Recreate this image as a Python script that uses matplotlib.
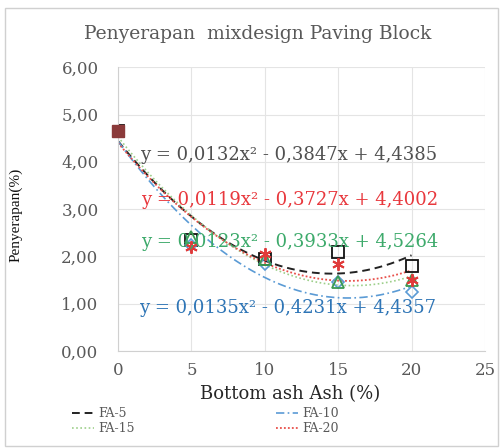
import numpy as np
import matplotlib.pyplot as plt
from matplotlib.patches import Rectangle

# data
kadar = [0, 5, 10, 15, 20]
fa5 = [4.65, 2.35, 1.95, 2.10, 1.80]
fa10 = [4.65, 2.25, 1.85, 1.45, 1.25]
fa15 = [4.65, 2.40, 1.95, 1.45, 1.50]
fa20 = [4.65, 2.20, 2.05, 1.85, 1.50]
kontrol_x = [0]
kontrol_y = [4.65]

# trendline coefficients (a, b, c) from the chart
coef5 = [0.0132, -0.3847, 4.4385]
coef10 = [0.0135, -0.4231, 4.4357]
coef15 = [0.0123, -0.3933, 4.5264]
coef20 = [0.0119, -0.3727, 4.4002]

eq5 = "y = 0,0132x² - 0,3847x + 4,4385"
eq20 = "y = 0,0119x² - 0,3727x + 4,4002"
eq15 = "y = 0,0123x² - 0,3933x + 4,5264"
eq10 = "y = 0,0135x² - 0,4231x + 4,4357"

plt.rcParams['font.family'] = ['DejaVu Serif']

fig = plt.figure(figsize=(5.03, 4.48), dpi=100)
ax = fig.add_axes([0.2346, 0.2165, 0.7294, 0.6335])

fig.patches.append(Rectangle((0.01, 0.005), 0.98, 0.978, transform=fig.transFigure,
                             fill=False, edgecolor='#d0d0d0', lw=1))

##------------------ trend lines ----------------------##
xs = np.linspace(0, 20, 200)
l5, = ax.plot(xs, np.polyval(coef5, xs), color='#222222', ls=(0, (4, 2.5)), lw=1.4, label='FA-5')
l10, = ax.plot(xs, np.polyval(coef10, xs), color='#5b9bd5', ls=(0, (5, 2, 1, 2)), lw=1.2, label='FA-10')
l15, = ax.plot(xs, np.polyval(coef15, xs), color='#9dcf8a', ls=(0, (1, 1.5)), lw=1.2, label='FA-15')
l20, = ax.plot(xs, np.polyval(coef20, xs), color='#e8504a', ls=(0, (1, 1.2)), lw=1.3, label='FA-20')

##------------------ markers ----------------------##
ax.plot(kadar, fa5, ls='none', marker='s', ms=8, mfc='none', mec='#111111', mew=1.3)
ax.plot(kadar, fa10, ls='none', marker='D', ms=6, mfc='none', mec='#5b9bd5', mew=1.2)
ax.plot(kadar, fa15, ls='none', marker='^', ms=9, mfc='none', mec='#3a9a52', mew=1.3)
ax.plot(kadar, fa20, ls='none', marker=(6, 2, 0), ms=9, mec='#e03a3a', mew=1.4)
ax.plot(kontrol_x, kontrol_y, ls='none', marker='s', ms=8, mfc='#8b3a3a', mec='#8b3a3a',
        clip_on=False, zorder=5)

##------------------ equations ----------------------##
ax.text(1.5, 4.14, eq5, color='#505050', fontsize=13, va='center')
ax.text(1.6, 3.19, eq20, color='#e8383d', fontsize=13, va='center')
ax.text(1.6, 2.30, eq15, color='#3daa6b', fontsize=13, va='center')
ax.text(1.4, 0.90, eq10, color='#2e75b6', fontsize=13, va='center')

ax.set_xlim(0, 25)
ax.set_ylim(0, 6)
ax.set_xticks(range(0, 26, 5))
ax.set_yticks(range(0, 7))
ax.set_yticklabels(['%d,00' % v for v in range(0, 7)])
ax.tick_params(colors='#595959', labelsize=12, length=0)
ax.tick_params(axis='y', pad=14)
ax.tick_params(axis='x', pad=8)
ax.grid(True, color='#e4e4e4', lw=0.8)
ax.set_axisbelow(True)
for s in ['top', 'right']:
    ax.spines[s].set_visible(False)
for s in ['left', 'bottom']:
    ax.spines[s].set_color('#d0d0d0')

fig.text(0.513, 0.925, 'Penyerapan  mixdesign Paving Block', color='#595959',
         fontsize=13.5, ha='center', va='center')
ax.set_xlabel('Bottom ash Ash (%)', fontsize=13, color='#262626')
ax.xaxis.set_label_coords(0.47, -0.12)
ax.set_ylabel('Penyerapan(%)', family='Liberation Serif', fontsize=11, color='#111111')
ax.yaxis.set_label_coords(-0.259, 0.48)

# row-major order: FA-5, FA-10 / FA-15, FA-20
fig.legend(handles=[l5, l15, l10, l20], loc='upper left', bbox_to_anchor=(0.13, 0.105),
           ncol=2, frameon=False, fontsize=9, labelcolor='#595959',
           columnspacing=11.3, handlelength=1.8, handletextpad=0.3, borderpad=0, labelspacing=0.15)

fig.savefig('out.png', dpi=100)
